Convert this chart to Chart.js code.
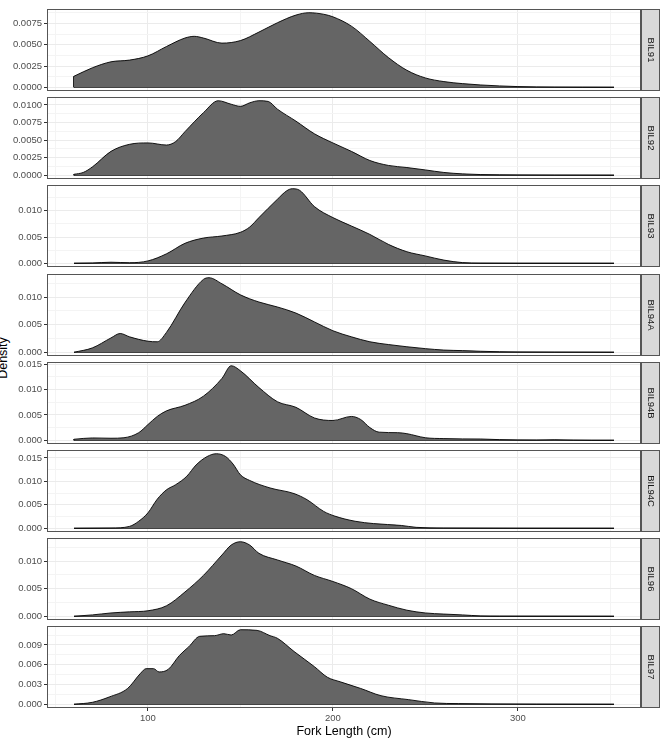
<!DOCTYPE html>
<html>
<head>
<meta charset="utf-8">
<script src="https://cdn.jsdelivr.net/npm/chart.js@4.4.0/dist/chart.umd.min.js"></script>
<style>
  body { margin: 0; background: #fff; width: 667px; height: 739px; position: relative; overflow: hidden; font-family: "Liberation Sans", Arial, sans-serif; }
  canvas { position: absolute; left: 0; }
  #ytitle { position: absolute; left: -37px; top: 350px; width: 80px; height: 16px; line-height: 16px; text-align: center; font-size: 12.5px; color: #000; transform: rotate(-90deg); }
</style>
</head>
<body>
<div id="ytitle">Density</div>
<script>
// Facet names, fork lengths (cm) and density values.
const facets = ['BIL91', 'BIL92', 'BIL93', 'BIL94A', 'BIL94B', 'BIL94C', 'BIL96', 'BIL97'];

const fl91 = [60,70,80,90,100,110,120,125,130,140,150,160,170,180,187,195,200,210,220,230,240,250,260,270,280,290,300,310,320,335,352];
const dens91 = [0.0013,0.0023,0.0030,0.0032,0.0037,0.0048,0.0058,0.0060,0.0058,0.0052,0.0055,0.0065,0.0076,0.0085,0.00878,0.0086,0.0083,0.0072,0.0054,0.0035,0.0020,0.0011,0.00067,0.00043,0.00027,0.00016,0.00008,0.00004,0.00002,0.00001,0];

const fl92 = [60,65,70,80,90,100,110,115,120,130,138,145,150,155,160,165,170,180,190,200,210,220,230,240,250,260,270,280,300,320,352];
const dens92 = [0.00014,0.0004,0.0012,0.0034,0.0044,0.0046,0.0043,0.0048,0.0062,0.0089,0.0106,0.0101,0.0098,0.0103,0.0106,0.0105,0.0094,0.0077,0.0059,0.0046,0.0034,0.0021,0.0014,0.0011,0.00076,0.0004,0.0002,0.0001,0.00005,0.00003,0.00002];

const fl93 = [60,70,80,90,100,110,120,130,140,150,155,160,170,175,178,182,190,200,210,220,230,240,250,260,270,280,300,352];
const dens93 = [0,0.00005,0.0002,0.0001,0.00045,0.0018,0.0038,0.0048,0.0052,0.0059,0.0069,0.0087,0.0122,0.0138,0.0142,0.0139,0.0108,0.0087,0.0071,0.0055,0.0036,0.0022,0.0014,0.0006,0.00013,0.00002,0,0];

const fl94a = [60,70,80,85,90,100,105,110,120,130,133,140,150,160,170,180,190,200,210,220,230,240,250,260,270,280,290,300,320,352];
const dens94a = [0,0.0008,0.0026,0.0034,0.0028,0.0020,0.0019,0.0036,0.0090,0.0132,0.0135,0.0124,0.0104,0.0091,0.0082,0.0071,0.0055,0.0039,0.0028,0.0019,0.0014,0.0010,0.00066,0.0004,0.0003,0.00018,0.0001,0.00006,0.00003,0.00001];

const fl94b = [60,70,80,87,95,100,105,110,120,130,140,145,150,160,170,180,190,200,210,215,220,225,235,240,250,260,270,280,290,300,310,320,330,340,352];
const dens94b = [0.0002,0.00046,0.0004,0.0005,0.0015,0.0031,0.0047,0.0058,0.0069,0.0087,0.0122,0.0147,0.0137,0.0104,0.0076,0.0065,0.0044,0.0039,0.0047,0.0041,0.0025,0.0016,0.0015,0.0013,0.0005,0.00033,0.00027,0.00025,0.00013,0.00007,0.00005,0.0001,0.00003,0,0];

const fl94c = [60,80,90,95,100,105,110,115,121,126,132,137,142,146,150,155,166,179,186,195,201,212,222,237,245,260,300,352];
const dens94c = [0,0.00005,0.0004,0.0015,0.0033,0.0062,0.0082,0.0093,0.0111,0.0135,0.0153,0.0159,0.0153,0.0137,0.0114,0.0102,0.0086,0.0074,0.0061,0.0036,0.0026,0.0015,0.0010,0.0006,0.0002,0.00005,0.00001,0];

const fl96 = [60,70,80,90,100,110,120,130,140,145,150,155,160,170,180,190,200,210,220,230,240,250,260,270,280,290,352];
const dens96 = [0,0.00025,0.0006,0.0008,0.0010,0.0019,0.0044,0.0074,0.0111,0.0129,0.0135,0.0129,0.0114,0.0102,0.0091,0.0074,0.0063,0.0050,0.0031,0.0020,0.0011,0.0006,0.0004,0.00025,0.00006,0.00002,0];

const fl97 = [60,70,79,89,96,99,103,106,111,117,122,128,136,141,145,150,159,166,170,179,190,197,204,215,226,241,255,268,286,310,352];
const dens97 = [0,0.0003,0.0011,0.0024,0.0047,0.0054,0.0054,0.0049,0.0053,0.0074,0.0087,0.0103,0.0104,0.0107,0.0105,0.0113,0.0112,0.0104,0.0100,0.0080,0.0057,0.0041,0.0034,0.0024,0.0013,0.0007,0.0002,0.0001,0.00005,0.00002,0];

// Tick labels (y per facet, x shared).
const yTicks91 = ['0.0000', '0.0025', '0.0050', '0.0075'];
const yTicks92 = ['0.0000', '0.0025', '0.0050', '0.0075', '0.0100'];
const yTicks5 = ['0.000', '0.005', '0.010', '0.015'];
const yTicks97 = ['0.000', '0.003', '0.006', '0.009'];
const xTickLabels = ['100', '200', '300'];

const panels = [
  { name: facets[0], x: fl91, y: dens91, ticks: yTicks91 },
  { name: facets[1], x: fl92, y: dens92, ticks: yTicks92 },
  { name: facets[2], x: fl93, y: dens93, ticks: yTicks5 },
  { name: facets[3], x: fl94a, y: dens94a, ticks: yTicks5 },
  { name: facets[4], x: fl94b, y: dens94b, ticks: yTicks5 },
  { name: facets[5], x: fl94c, y: dens94c, ticks: yTicks5 },
  { name: facets[6], x: fl96, y: dens96, ticks: yTicks5 },
  { name: facets[7], x: fl97, y: dens97, ticks: yTicks97 },
];

// Layout (px)
const W = 667, H = 739;
const PANEL_TOP = 9, PANEL_STEP = 88.2, PANEL_H = 82, PAD = 4;
const LEFT = 47, RIGHT = 641, STRIP_W = 19;
const FONT = '"Liberation Sans", Arial, sans-serif';

Chart.defaults.font.family = FONT;

// ggplot-style 5% expansion of the x range
const allX = panels.flatMap(p => p.x);
const xLo = Math.min(...allX), xHi = Math.max(...allX);
const xMin = xLo - 0.05 * (xHi - xLo), xMax = xHi + 0.05 * (xHi - xLo);
const xMajor = xTickLabels.map(Number);
const xStep = xMajor[1] - xMajor[0];
const xAll = [];
for (let v = xMajor[0] - xStep * 2; v <= xMax; v += xStep / 2) if (v >= xMin) xAll.push(v);

// Panel border + facet strip on the right
const panelDeco = {
  id: 'panelDeco',
  afterDraw(chart, args, opts) {
    const { ctx, chartArea: a } = chart;
    ctx.save();
    ctx.strokeStyle = '#555'; ctx.lineWidth = 1;
    ctx.strokeRect(a.left + 0.5, a.top + 0.5, a.right - a.left - 1, a.bottom - a.top - 1);
    ctx.fillStyle = '#d9d9d9';
    ctx.fillRect(a.right, a.top, STRIP_W, a.bottom - a.top);
    ctx.strokeRect(a.right + 0.5, a.top + 0.5, STRIP_W - 1, a.bottom - a.top - 1);
    ctx.translate(a.right + STRIP_W / 2, (a.top + a.bottom) / 2);
    ctx.rotate(Math.PI / 2);
    ctx.fillStyle = '#1a1a1a';
    ctx.font = '9.5px ' + FONT;
    ctx.textAlign = 'center'; ctx.textBaseline = 'middle';
    ctx.fillText(opts.label, 0, 0);
    ctx.restore();
  }
};

panels.forEach((p, i) => {
  const isLast = i === panels.length - 1;
  const top = Math.round(PANEL_TOP + i * PANEL_STEP) - PAD;
  const height = isLast ? H - top : PANEL_H + 2 * PAD;
  const cv = document.createElement('canvas');
  cv.width = W; cv.height = height;
  cv.style.top = top + 'px';
  document.body.appendChild(cv);

  const peak = Math.max(...p.y);
  const yMin = -0.05 * peak, yMax = 1.05 * peak;
  const major = p.ticks.map(Number);
  const step = major[1] - major[0];
  const yAll = [];
  major.forEach((v, k) => {
    if (v <= yMax) yAll.push({ value: v, txt: p.ticks[k], minor: false });
    if (v + step / 2 <= yMax) yAll.push({ value: v + step / 2, txt: '', minor: true });
  });

  new Chart(cv, {
    type: 'line',
    data: {
      datasets: [
        {
          data: p.x.map((x, k) => ({ x, y: p.y[k] })),
          fill: 'origin', backgroundColor: '#656565',
          borderColor: '#000', borderWidth: 0.9,
          pointRadius: 0, cubicInterpolationMode: 'monotone'
        },
        {
          data: [{ x: p.x[0], y: p.y[0] }, { x: p.x[0], y: 0 }, { x: p.x[p.x.length - 1], y: 0 }],
          fill: false, borderColor: '#000', borderWidth: 1, pointRadius: 0, tension: 0
        }
      ]
    },
    options: {
      responsive: false, animation: false, devicePixelRatio: 1,
      layout: { padding: { top: PAD, bottom: isLast ? 0 : PAD, left: 0, right: W - RIGHT } },
      plugins: { legend: { display: false }, tooltip: { enabled: false }, panelDeco: { label: p.name } },
      scales: {
        x: {
          type: 'linear', min: xMin, max: xMax,
          afterBuildTicks: s => { s.ticks = xAll.map(v => ({ value: v })); },
          afterFit: s => {
            s.height = isLast ? H - top - PAD - PANEL_H : 0;
            s.paddingLeft = 0; s.paddingRight = 0;
          },
          border: { display: false },
          grid: {
            color: c => (c.tick && c.tick.value % xStep === 0) ? '#ebebeb' : '#f4f4f4',
            lineWidth: 1,
            drawTicks: isLast, tickLength: 3,
            tickColor: c => (c.tick && c.tick.value % xStep === 0) ? '#333' : 'rgba(0,0,0,0)'
          },
          ticks: {
            display: isLast, autoSkip: false, maxRotation: 0, padding: 2,
            color: '#4d4d4d', font: { size: 9.5 },
            callback: v => xMajor.includes(v) ? String(v) : ''
          },
          title: {
            display: isLast, text: 'Fork Length (cm)', color: '#000',
            font: { size: 12.5 }, padding: { top: 0, bottom: 0 }
          }
        },
        y: {
          min: yMin, max: yMax,
          afterBuildTicks: s => { s.ticks = yAll.map(t => ({ ...t })); },
          afterFit: s => { s.width = LEFT; s.paddingTop = 0; s.paddingBottom = 0; },
          border: { display: false },
          grid: {
            color: c => (c.tick && !c.tick.minor) ? '#ebebeb' : '#f4f4f4',
            lineWidth: 1, tickLength: 3,
            tickColor: c => (c.tick && !c.tick.minor) ? '#333' : 'rgba(0,0,0,0)'
          },
          ticks: {
            autoSkip: false, padding: 2, color: '#4d4d4d', font: { size: 9.5 },
            callback: (v, k, ticks) => ticks[k].txt
          }
        }
      }
    },
    plugins: [panelDeco]
  });
});
</script>
</body>
</html>
